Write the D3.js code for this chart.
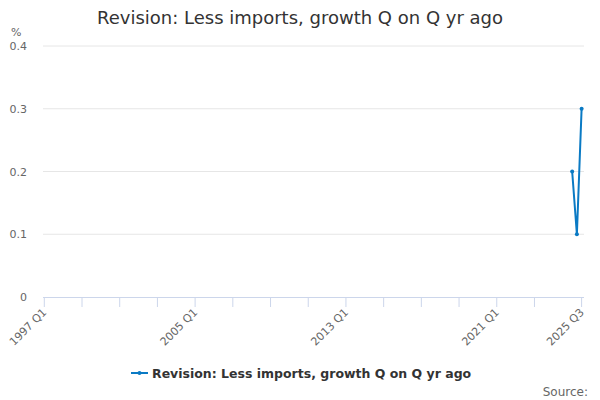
<!DOCTYPE html>
<html>
<head>
<meta charset="utf-8">
<script src="https://cdn.jsdelivr.net/npm/d3@7"></script>
<style>
  body { margin: 0; background: #fff; }
  svg { font-family: "DejaVu Sans", sans-serif; }
</style>
</head>
<body>
<svg id="chart" width="600" height="400"></svg>
<script>
// quarters from 1997 Q1 to 2025 Q3
const years = d3.range(1997, 2026);
const quarters = years.flatMap(y => [1, 2, 3, 4].map(q => y + ' Q' + q)).slice(0, 115);

// only the last three quarters carry a value
const pointLabels = ['2025 Q1', '2025 Q2', '2025 Q3'];
const pointValues = [0.2, 0.1, 0.3];

const yTicks = [0, 0.1, 0.2, 0.3, 0.4];
const xLabels = ['1997 Q1', '2005 Q1', '2013 Q1', '2021 Q1', '2025 Q3'];
const seriesName = 'Revision: Less imports, growth Q on Q yr ago';

const svg = d3.select('#chart');
const plotLeft = 43, plotRight = 584, plotTop = 46, plotBottom = 297;

const x = d3.scalePoint().domain(quarters).range([44.3, 581.6]);
const y = d3.scaleLinear().domain([0, 0.4]).range([plotBottom, plotTop]);

// title
svg.append('text')
    .attr('x', 300).attr('y', 24)
    .attr('text-anchor', 'middle')
    .style('font-size', '18px').style('fill', '#333')
    .text(seriesName);

// y axis unit
svg.append('text')
    .attr('x', 11).attr('y', 36)
    .style('font-size', '11px').style('fill', '#666')
    .text('%');

// grid lines + y labels
svg.append('g').selectAll('line')
    .data(yTicks.filter(d => d > 0))
    .enter().append('line')
    .attr('x1', plotLeft).attr('x2', plotRight)
    .attr('y1', d => y(d)).attr('y2', d => y(d))
    .attr('stroke', '#e6e6e6').attr('stroke-width', 1);

svg.append('g').selectAll('text')
    .data(yTicks)
    .enter().append('text')
    .attr('x', 27).attr('y', d => y(d) + 4)
    .attr('text-anchor', 'end')
    .style('font-size', '11px').style('fill', '#666')
    .text(d => d === 0 ? '0' : d.toFixed(1));

// x axis line and ticks (every 8 quarters, plus the last one)
svg.append('line')
    .attr('x1', plotLeft).attr('x2', plotRight)
    .attr('y1', plotBottom + 0.5).attr('y2', plotBottom + 0.5)
    .attr('stroke', '#ccd6eb');

const tickCats = quarters.filter((d, i) => i % 8 === 0 && i < 112).concat([quarters[quarters.length - 1]]);
svg.append('g').selectAll('line')
    .data(tickCats)
    .enter().append('line')
    .attr('x1', d => x(d)).attr('x2', d => x(d))
    .attr('y1', plotBottom).attr('y2', plotBottom + 10)
    .attr('stroke', '#ccd6eb');

svg.append('g').selectAll('text')
    .data(xLabels)
    .enter().append('text')
    .attr('transform', d => `translate(${x(d) + 3},${plotBottom + 16}) rotate(-45)`)
    .attr('text-anchor', 'end')
    .style('font-size', '11px').style('fill', '#666')
    .text(d => d);

// series
const pts = pointLabels.map((c, i) => ({ c, v: pointValues[i] }));
const color = '#0a7ac4';

svg.append('path')
    .datum(pts)
    .attr('fill', 'none')
    .attr('stroke', color)
    .attr('stroke-width', 2)
    .attr('d', d3.line().x(d => x(d.c)).y(d => y(d.v)));

svg.append('g').selectAll('circle')
    .data(pts)
    .enter().append('circle')
    .attr('cx', d => x(d.c)).attr('cy', d => y(d.v))
    .attr('r', 2).attr('fill', color);

// legend
const legend = svg.append('g').attr('transform', 'translate(131,373)');
legend.append('line')
    .attr('x1', 0).attr('x2', 17).attr('y1', 0).attr('y2', 0)
    .attr('stroke', color).attr('stroke-width', 2);
legend.append('circle').attr('cx', 8.5).attr('cy', 0).attr('r', 2).attr('fill', color);
legend.append('text')
    .attr('x', 21).attr('y', 4.5)
    .style('font-size', '12.5px').style('font-weight', 'bold').style('fill', '#333')
    .text(seriesName);

// source
svg.append('text')
    .attr('x', 588).attr('y', 396)
    .attr('text-anchor', 'end')
    .style('font-size', '12px').style('fill', '#666')
    .text('Source:');
</script>
</body>
</html>
